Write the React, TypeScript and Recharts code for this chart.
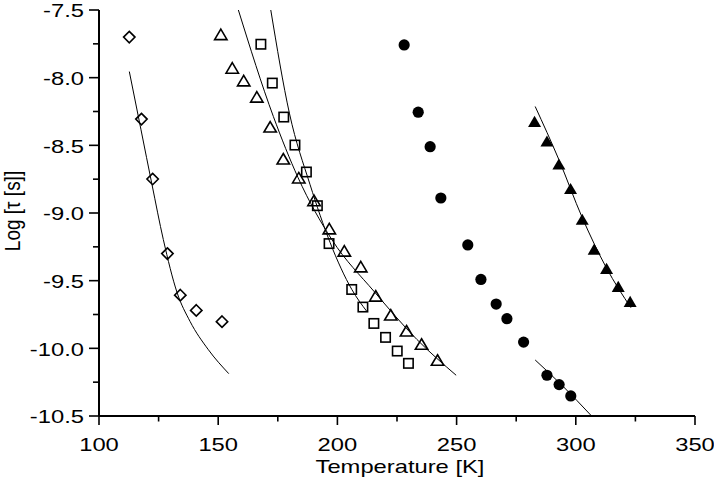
import { ScatterChart, Scatter, XAxis, YAxis } from 'recharts';

const diamondT = [112.7, 117.8, 122.5, 128.7, 134.1, 140.8, 151.6];
const diamondLog = [-7.7, -8.306, -8.749, -9.3, -9.607, -9.72, -9.803];

const openTriT = [151.1, 155.9, 160.7, 166.2, 171.8, 177.3, 183.8, 190.2, 196.6, 202.9, 209.8, 216.1, 222.4, 229.0, 235.3, 242.0];
const openTriLog = [-7.682, -7.93, -8.024, -8.144, -8.365, -8.601, -8.741, -8.909, -9.117, -9.282, -9.398, -9.614, -9.754, -9.872, -9.97, -10.088];

const squareT = [167.9, 172.7, 177.5, 182.2, 187.0, 191.6, 196.5, 206.0, 210.7, 215.3, 220.2, 225.1, 229.8];
const squareLog = [-7.753, -8.04, -8.291, -8.498, -8.697, -8.946, -9.226, -9.565, -9.695, -9.816, -9.919, -10.02, -10.111];

const circleT = [228.0, 233.9, 238.9, 243.4, 254.7, 260.2, 266.6, 271.1, 278.1, 287.9, 293.0, 297.9];
const circleLog = [-7.758, -8.255, -8.51, -8.889, -9.236, -9.491, -9.673, -9.781, -9.954, -10.199, -10.268, -10.352];

const filledTriT = [282.7, 287.9, 292.9, 297.8, 302.7, 307.7, 312.9, 317.8, 322.8];
const filledTriLog = [-8.326, -8.471, -8.641, -8.822, -9.049, -9.27, -9.412, -9.545, -9.656];

// fit curves
const diamondFitT = [112.72, 117.62, 122.24, 126.98, 132.73, 138.19, 145.74, 154.43];
const diamondFitLog = [-7.955, -8.385, -8.791, -9.196, -9.587, -9.801, -10.007, -10.187];

const openTriFitT = [158.46, 173.14, 183.51, 197.65, 215.4, 233.32, 249.81];
const openTriFitLog = [-7.5, -8.287, -8.739, -9.196, -9.58, -9.934, -10.199];

const squareFitT = [172.05, 179.86, 188.54, 196.93, 206.04, 212.34];
const squareFitLog = [-7.5, -8.262, -8.791, -9.218, -9.565, -9.727];

const circleFitT = [282.96, 294.6, 306.3];
const circleFitLog = [-10.086, -10.28, -10.494];

const filledTriFitT = [282.96, 292.91, 302.69, 312.76, 323.12];
const filledTriFitLog = [-8.213, -8.606, -9.034, -9.403, -9.7];

const xTicks = [100, 125, 150, 175, 200, 225, 250, 275, 300, 325, 350];
const yTicks = [-10.5, -10.25, -10, -9.75, -9.5, -9.25, -9, -8.75, -8.5, -8.25, -8, -7.75, -7.5];

const zip = (xs: number[], ys: number[]) => xs.map((x, i) => ({ x, y: ys[i] }));

const FONT = '"Liberation Sans", Arial, sans-serif';
const STRETCH = 1.25;

const XTick = (props: any) => {
  const { x, y, payload } = props;
  const v = payload.value;
  const major = v % 50 === 0;
  return (
    <g>
      <line x1={x} x2={x} y1={y} y2={y + (major ? 9 : 5.5)} stroke="#000" strokeWidth={1.6} />
      {major && (
        <text
          transform={`translate(${x},${y + 35}) scale(${STRETCH},1)`}
          textAnchor="middle"
          fontSize={19}
          fontFamily={FONT}
          fill="#000"
        >
          {v}
        </text>
      )}
    </g>
  );
};

const YTick = (props: any) => {
  const { x, y, payload } = props;
  const v = payload.value;
  const major = Math.abs(v * 2 - Math.round(v * 2)) < 1e-6;
  return (
    <g>
      <line x1={x} x2={x - (major ? 10 : 6)} y1={y} y2={y} stroke="#000" strokeWidth={1.6} />
      {major && (
        <text
          transform={`translate(${x - 15},${y + 7.2}) scale(${STRETCH},1)`}
          textAnchor="end"
          fontSize={19}
          fontFamily={FONT}
          fill="#000"
        >
          {v.toFixed(1)}
        </text>
      )}
    </g>
  );
};

const XTitle = (props: any) => {
  const vb = props.viewBox;
  return (
    <text
      transform={`translate(${vb.x + vb.width / 2 + 3},${vb.y + 57}) scale(${STRETCH},1)`}
      textAnchor="middle"
      fontSize={19}
      fontFamily={FONT}
      fill="#000"
    >
      Temperature [K]
    </text>
  );
};

const YTitle = (props: any) => {
  const vb = props.viewBox;
  return (
    <text
      transform={`translate(20,${vb.y + vb.height / 2 - 2}) rotate(-90) scale(1,1.15)`}
      textAnchor="middle"
      fontSize={19}
      fontFamily={FONT}
      fill="#000"
    >
      Log [τ [s]]
    </text>
  );
};

const OpenDiamond = (p: any) => (
  <path
    d={`M${p.cx},${p.cy - 5.7}L${p.cx + 5.7},${p.cy}L${p.cx},${p.cy + 5.7}L${p.cx - 5.7},${p.cy}Z`}
    fill="none"
    stroke="#000"
    strokeWidth={1.6}
  />
);

const OpenTriangle = (p: any) => (
  <path
    d={`M${p.cx},${p.cy - 5.5}L${p.cx + 6.2},${p.cy + 5}L${p.cx - 6.2},${p.cy + 5}Z`}
    fill="none"
    stroke="#000"
    strokeWidth={1.6}
  />
);

const OpenSquare = (p: any) => (
  <rect x={p.cx - 4.7} y={p.cy - 4.7} width={9.4} height={9.4} fill="none" stroke="#000" strokeWidth={1.6} />
);

const FilledCircle = (p: any) => <circle cx={p.cx} cy={p.cy} r={5.6} fill="#000" />;

const FilledTriangle = (p: any) => (
  <path
    d={`M${p.cx},${p.cy - 6}L${p.cx + 6.5},${p.cy + 5.2}L${p.cx - 6.5},${p.cy + 5.2}Z`}
    fill="#000"
  />
);

const NoDot = () => <g />;

const fitLine = { stroke: '#000', strokeWidth: 1 };

export default function App() {
  return (
    <div style={{ position: 'absolute', left: 0, top: 0, width: 714, height: 485, background: '#fff' }}>
      <ScatterChart width={714} height={485} margin={{ top: 10, right: 19, bottom: 1, left: 0 }}>
        <XAxis
          type="number"
          dataKey="x"
          domain={[100, 350]}
          ticks={xTicks}
          interval={0}
          tickSize={0}
          tickMargin={0}
          tick={<XTick />}
          height={68}
          stroke="#000"
          strokeWidth={2}
          allowDataOverflow
          label={<XTitle />}
        />
        <YAxis
          type="number"
          dataKey="y"
          domain={[-10.5, -7.5]}
          ticks={yTicks}
          interval={0}
          tickSize={0}
          tickMargin={0}
          tick={<YTick />}
          width={99}
          stroke="#000"
          strokeWidth={2}
          allowDataOverflow
          label={<YTitle />}
        />
        <Scatter data={zip(diamondFitT, diamondFitLog)} line={fitLine} lineJointType="monotoneX" shape={NoDot} isAnimationActive={false} />
        <Scatter data={zip(openTriFitT, openTriFitLog)} line={fitLine} lineJointType="monotoneX" shape={NoDot} isAnimationActive={false} />
        <Scatter data={zip(squareFitT, squareFitLog)} line={fitLine} lineJointType="monotoneX" shape={NoDot} isAnimationActive={false} />
        <Scatter data={zip(circleFitT, circleFitLog)} line={fitLine} lineJointType="monotoneX" shape={NoDot} isAnimationActive={false} />
        <Scatter data={zip(filledTriFitT, filledTriFitLog)} line={fitLine} lineJointType="monotoneX" shape={NoDot} isAnimationActive={false} />
        <Scatter data={zip(diamondT, diamondLog)} shape={OpenDiamond} isAnimationActive={false} />
        <Scatter data={zip(openTriT, openTriLog)} shape={OpenTriangle} isAnimationActive={false} />
        <Scatter data={zip(squareT, squareLog)} shape={OpenSquare} isAnimationActive={false} />
        <Scatter data={zip(circleT, circleLog)} shape={FilledCircle} isAnimationActive={false} />
        <Scatter data={zip(filledTriT, filledTriLog)} shape={FilledTriangle} isAnimationActive={false} />
      </ScatterChart>
    </div>
  );
}
